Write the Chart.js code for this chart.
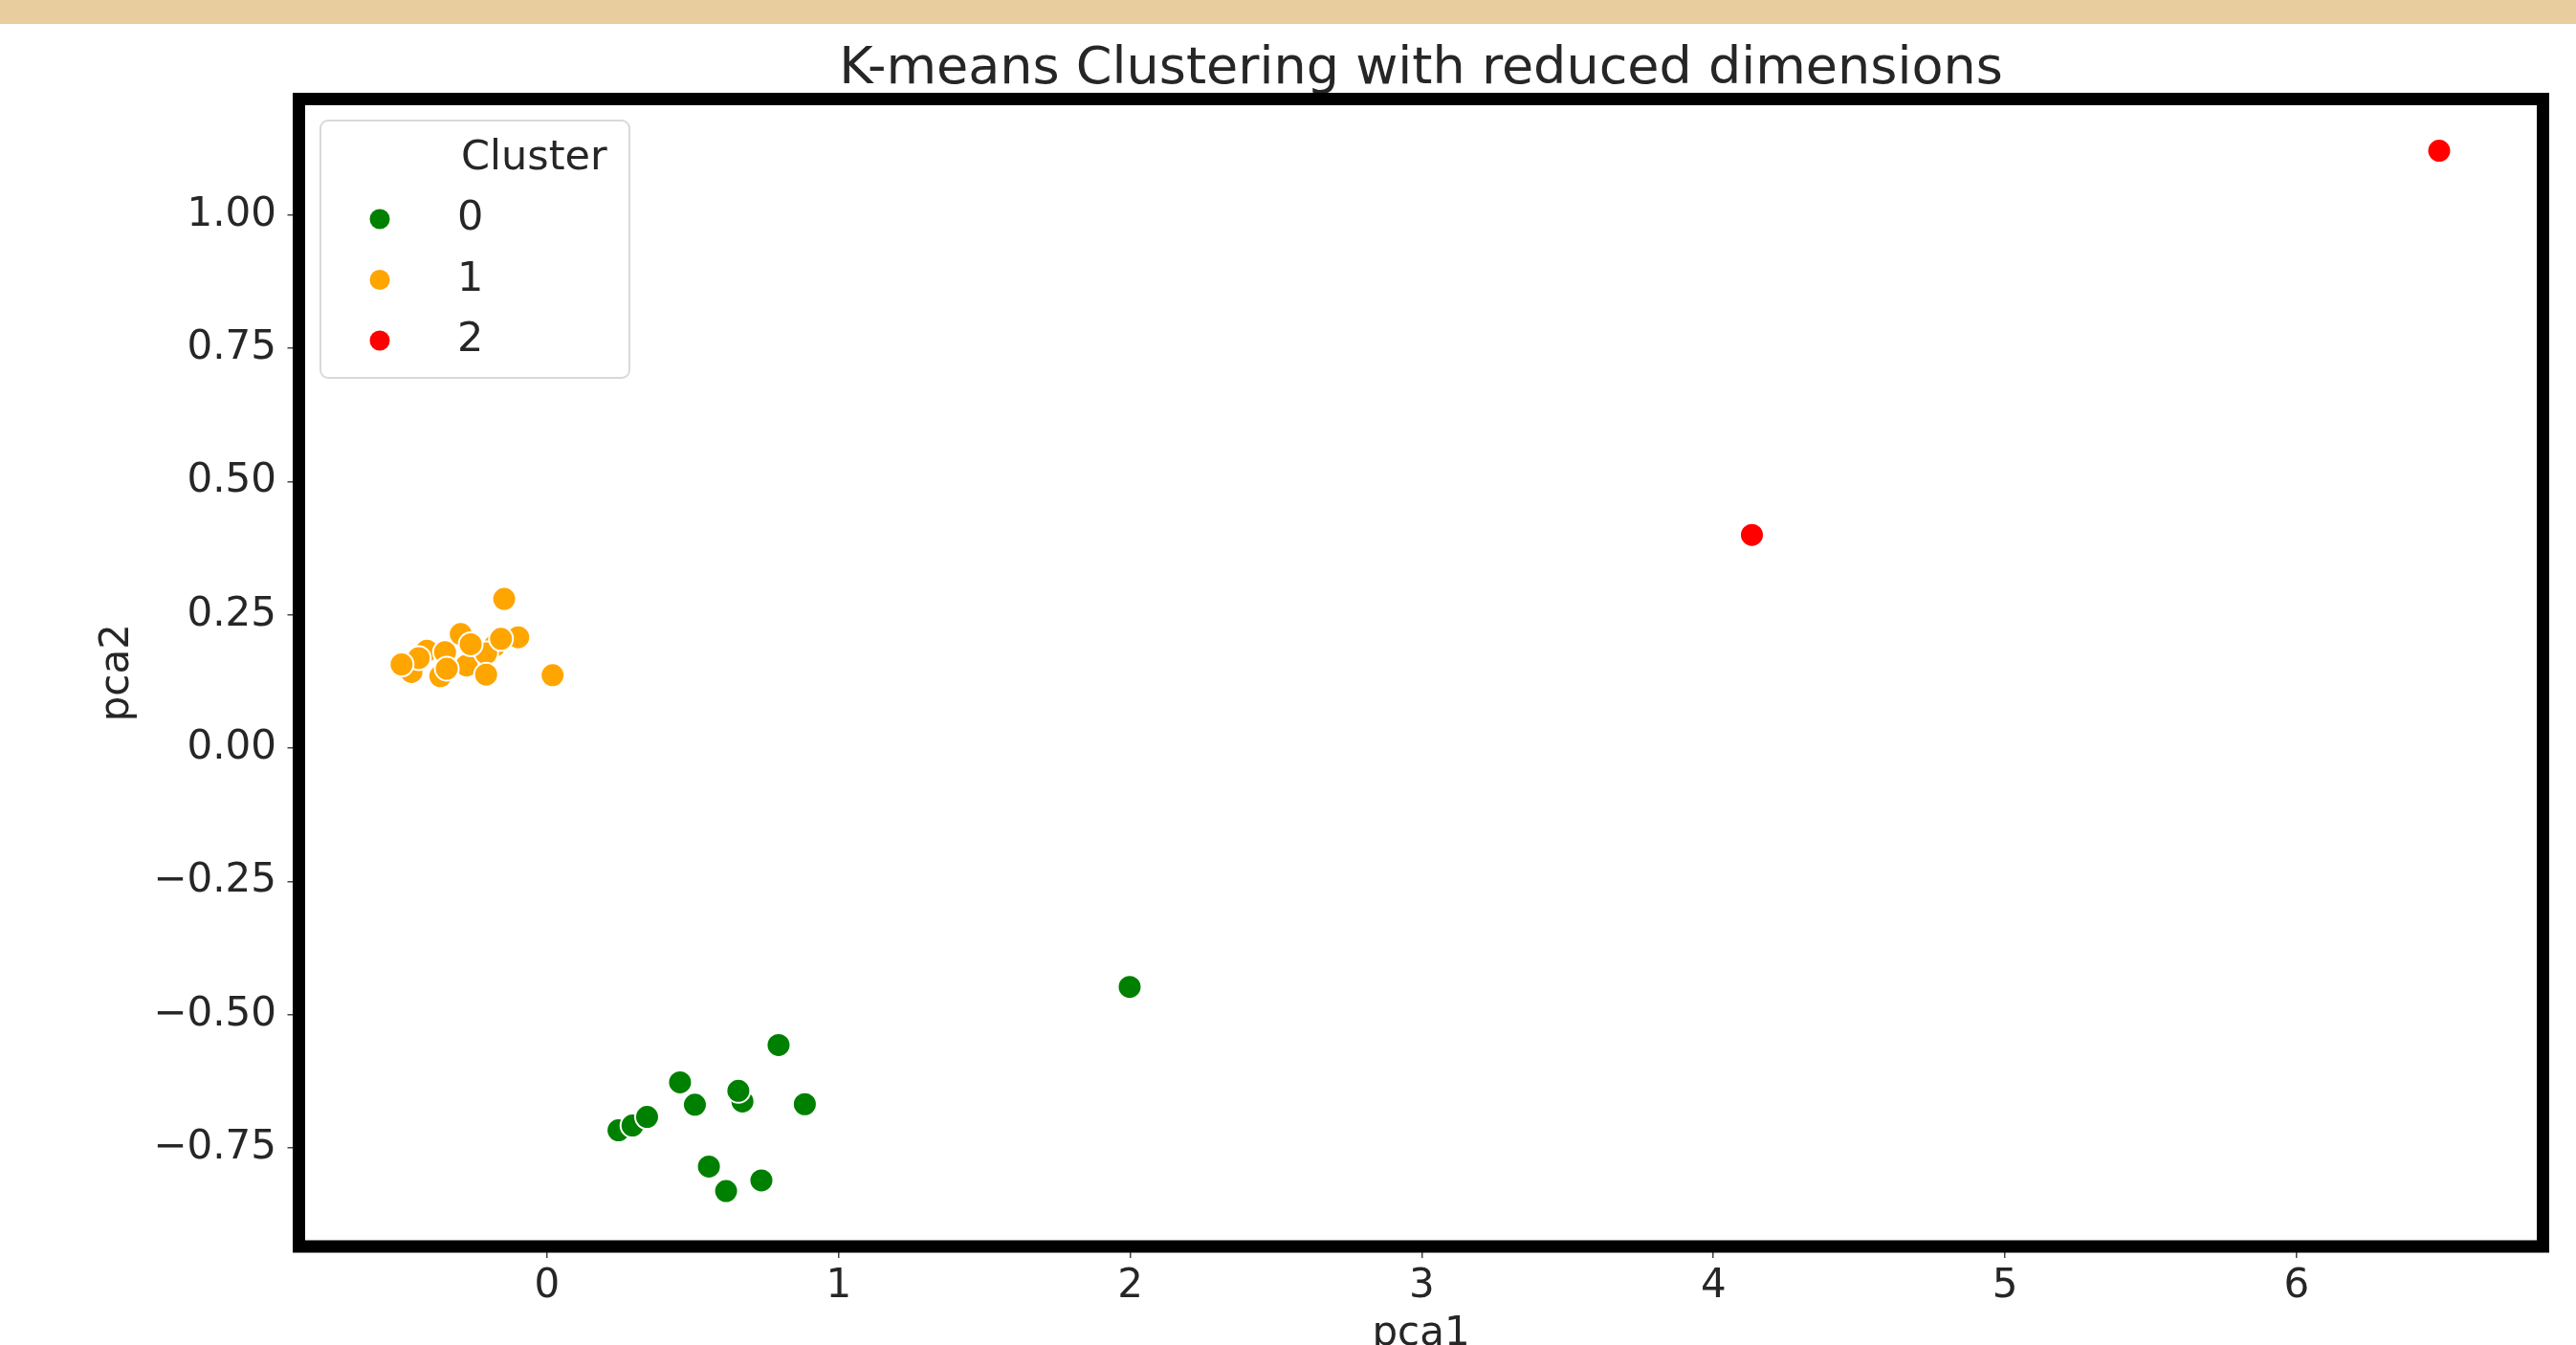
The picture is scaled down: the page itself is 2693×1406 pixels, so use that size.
<!DOCTYPE html>
<html>
<head>
<meta charset="utf-8">
<title>K-means Clustering with reduced dimensions</title>
<script src="https://cdn.jsdelivr.net/npm/chart.js@4.4.0/dist/chart.umd.min.js"></script>
<style>
  html, body { margin: 0; padding: 0; background: #fff; }
  #band { height: 25px; background: #e8cd9e; }
  #chartBox { width: 2693px; height: 1381px; }
</style>
</head>
<body>
<div id="band"></div>
<div id="chartBox"><canvas id="kmeansChart" width="2693" height="1381"></canvas></div>
<script>
// Cluster names and colours
const clusterLabels = ['0', '1', '2'];
const clusterColors = ['#008000', '#ffa500', '#ff0000'];
const legendTitle = 'Cluster';

// Points (pca1 / pca2 per cluster)
const pca1Cluster0 = [0.794, 0.456, 0.507, 0.670, 0.656, 0.884, 0.245, 0.293, 0.343, 0.555, 0.614, 0.735, 1.998];
const pca2Cluster0 = [-0.557, -0.627, -0.669, -0.663, -0.643, -0.668, -0.717, -0.708, -0.692, -0.785, -0.831, -0.811, -0.448];

const pca1Cluster1 = [-0.412, -0.366, -0.465, -0.276, -0.180, -0.209, -0.147, -0.099, -0.158, -0.296, -0.262, -0.350, -0.440, -0.499, -0.344, -0.209, 0.019];
const pca2Cluster1 = [0.183, 0.135, 0.143, 0.155, 0.192, 0.178, 0.280, 0.208, 0.205, 0.214, 0.195, 0.180, 0.169, 0.157, 0.149, 0.138, 0.137];

const pca1Cluster2 = [4.132, 6.489];
const pca2Cluster2 = [0.400, 1.121];

// Axis ticks
const xTicks = [0, 1, 2, 3, 4, 5, 6];
const yTicks = [-0.75, -0.5, -0.25, 0, 0.25, 0.5, 0.75, 1.0];

const textColor = '#262626';
const fontFamily = '"DejaVu Sans", sans-serif';

function toPoints(xs, ys) {
    return xs.map((x, i) => ({ x: x, y: ys[i] }));
}

const pointSets = [
    toPoints(pca1Cluster0, pca2Cluster0),
    toPoints(pca1Cluster1, pca2Cluster1),
    toPoints(pca1Cluster2, pca2Cluster2)
];

// Thick black frame round the plot area
const plotFrame = {
    id: 'plotFrame',
    afterDatasetsDraw(chart) {
        const { ctx, chartArea } = chart;
        ctx.save();
        ctx.strokeStyle = '#000';
        ctx.lineWidth = 13;
        ctx.strokeRect(chartArea.left, chartArea.top, chartArea.right - chartArea.left, chartArea.bottom - chartArea.top);
        ctx.restore();
    }
};

// Legend box in the upper left corner, with a title
const clusterLegend = {
    id: 'clusterLegend',
    afterDraw(chart) {
        const { ctx, chartArea } = chart;
        const bx = chartArea.left + 22.5;
        const by = chartArea.top + 22.5;
        ctx.save();
        ctx.beginPath();
        ctx.roundRect(bx, by, 323, 269, 8);
        ctx.fillStyle = 'rgba(255, 255, 255, 0.8)';
        ctx.fill();
        ctx.strokeStyle = '#d9d9d9';
        ctx.lineWidth = 2;
        ctx.stroke();

        ctx.font = '43px ' + fontFamily;
        ctx.textBaseline = 'middle';
        ctx.textAlign = 'left';
        ctx.fillStyle = textColor;
        ctx.fillText(legendTitle, bx + 147, by + 40);

        chart.data.datasets.forEach((ds, i) => {
            const y = by + 103 + i * 63.5;
            ctx.beginPath();
            ctx.arc(bx + 62, y, 10.5, 0, Math.PI * 2);
            ctx.fillStyle = ds.backgroundColor;
            ctx.fill();
            ctx.fillStyle = textColor;
            ctx.fillText(ds.label, bx + 143, y);
        });
        ctx.restore();
    }
};

const ctx = document.getElementById('kmeansChart').getContext('2d');
const chartInstance = new Chart(ctx, {
    type: 'scatter',
    data: {
        datasets: clusterLabels.map((label, i) => ({
            label: label,
            data: pointSets[i],
            backgroundColor: clusterColors[i],
            borderColor: '#ffffff',
            borderWidth: 2,
            pointRadius: 12.5,
            pointHoverRadius: 12.5
        }))
    },
    options: {
        responsive: false,
        animation: false,
        devicePixelRatio: 1,
        layout: {
            padding: { left: 0, right: 34.5, top: 0, bottom: 0 }
        },
        plugins: {
            legend: { display: false },
            tooltip: { enabled: false },
            title: {
                display: true,
                fullSize: false, // centre the title over the plot area
                text: 'K-means Clustering with reduced dimensions',
                color: textColor,
                font: { family: fontFamily, size: 54, weight: 'normal', lineHeight: 1.0 },
                padding: { top: 20.5, bottom: 4 }
            }
        },
        scales: {
            x: {
                type: 'linear',
                min: -0.851,
                max: 6.845,
                afterBuildTicks: (scale) => { scale.ticks = xTicks.map(v => ({ value: v })); },
                afterFit: (scale) => { scale.height = 103; },
                ticks: {
                    color: textColor,
                    font: { family: fontFamily, size: 42 },
                    padding: 4.5,
                    callback: (v) => String(v)
                },
                grid: { drawOnChartArea: false, drawTicks: true, tickLength: 12, color: '#444', lineWidth: 1.5 },
                border: { display: false },
                title: {
                    display: true,
                    text: 'pca1',
                    color: textColor,
                    font: { family: fontFamily, size: 42, lineHeight: 0.5 },
                    padding: { top: 0, bottom: 0.5 }
                }
            },
            y: {
                type: 'linear',
                min: -0.935,
                max: 1.218,
                afterBuildTicks: (scale) => { scale.ticks = yTicks.map(v => ({ value: v })); },
                afterFit: (scale) => { scale.width = 312.5; },
                ticks: {
                    color: textColor,
                    font: { family: fontFamily, size: 42 },
                    padding: 11.5,
                    callback: (v) => (v < 0 ? '\u2212' : '') + Math.abs(v).toFixed(2)
                },
                grid: { drawOnChartArea: false, drawTicks: true, tickLength: 12, color: '#444', lineWidth: 1.5 },
                border: { display: false },
                title: {
                    display: true,
                    text: 'pca2',
                    color: textColor,
                    font: { family: fontFamily, size: 42, lineHeight: 1.2 },
                    padding: { top: 98.3, bottom: 0 }
                }
            }
        }
    },
    plugins: [plotFrame, clusterLegend]
});
</script>
</body>
</html>
